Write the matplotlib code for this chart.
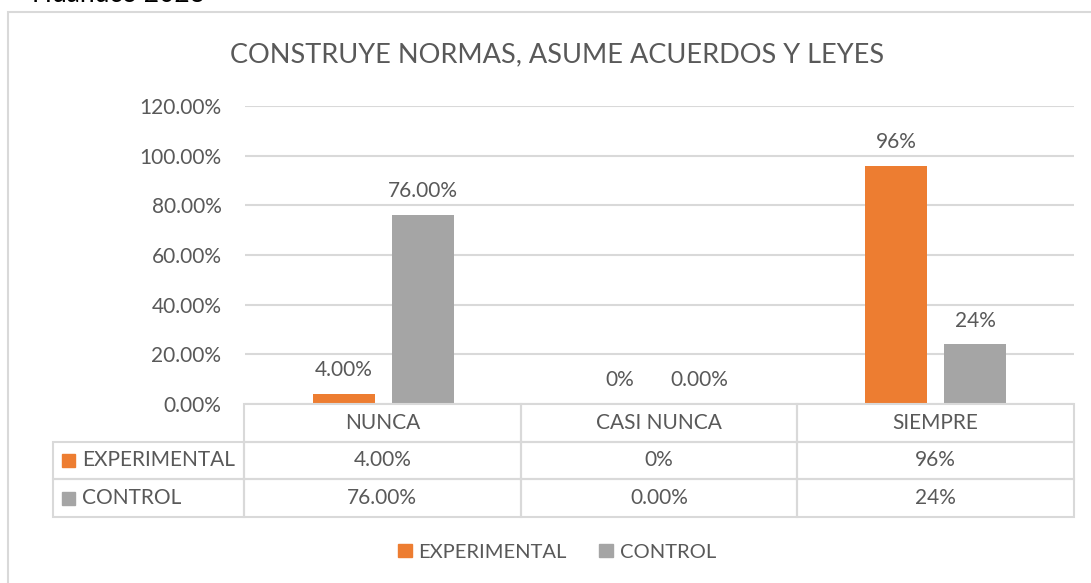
import matplotlib.pyplot as plt
from matplotlib.patches import Rectangle, Patch

plt.rcParams['font.family'] = ['Lato', 'DejaVu Sans']

categories = ["NUNCA", "CASI NUNCA", "SIEMPRE"]
series_names = ["EXPERIMENTAL", "CONTROL"]
experimental = [4.0, 0.0, 96.0]
control = [76.0, 0.0, 24.0]
experimental_labels = ["4.00%", "0%", "96%"]
control_labels = ["76.00%", "0.00%", "24%"]
yticks = [0, 20, 40, 60, 80, 100, 120]

ORANGE = "#ED7D31"
GRAY = "#A5A5A5"
TEXT = "#595959"
GRID = "#D9D9D9"
FS = 15

W, H = 1091, 583


def fx(x):
    return x / W


def fy(y):
    return 1 - y / H


fig = plt.figure(figsize=(W / 100, H / 100), dpi=100)

# outer chart border (runs off right and bottom edges)
fig.add_artist(Rectangle((fx(8), -0.2), 1.2, fy(12) + 0.2, transform=fig.transFigure,
                         fill=False, edgecolor=GRID, lw=1.5))
fig.text(fx(32), fy(2), "Huánuco 2023", fontsize=19, color="black", va="baseline")

fig.text(fx(557), fy(55), "CONSTRUYE NORMAS, ASUME ACUERDOS Y LEYES",
         fontsize=19.5, color=TEXT, ha="center", va="center")

# bar chart
ax = fig.add_axes([fx(245), fy(404), (1074 - 245) / W, 298 / H])
x = list(range(len(categories)))
off = 0.143
bw = 0.225
b1 = ax.bar([i - off for i in x], experimental, width=bw, color=ORANGE, zorder=3)
b2 = ax.bar([i + off for i in x], control, width=bw, color=GRAY, zorder=3)
for bars, labels in ((b1, experimental_labels), (b2, control_labels)):
    for bar, lab in zip(bars, labels):
        ax.annotate(lab, (bar.get_x() + bar.get_width() / 2, bar.get_height()),
                    xytext=(0, 10), textcoords="offset points",
                    ha="center", va="bottom", fontsize=FS, color=TEXT)

ax.set_xlim(-0.5, 2.5)
ax.set_ylim(0, 120)
ax.set_yticks(yticks)
ax.set_yticklabels([f"{v:.2f}%" for v in yticks])
ax.set_xticks([])
ax.tick_params(axis="y", length=0, pad=17, labelsize=FS, labelcolor=TEXT)
ax.grid(axis="y", color=GRID, lw=1.5, zorder=0)
for s in ax.spines.values():
    s.set_visible(False)

# data table under the axis, laid out in pixel units of its own axes
TW, TH = 1074 - 53, 517 - 404
tax = fig.add_axes([fx(53), fy(517), TW / W, TH / H])
tax.set_xlim(0, TW)
tax.set_ylim(TH, 0)
tax.axis("off")
lab_w = 191
col_w = (TW - lab_w) / len(categories)
rh = TH / 3


def cell(x0, y0, w, h, text="", loc="center", pad=0):
    tax.add_patch(Rectangle((x0, y0), w, h, fill=False, edgecolor=GRID, lw=1.5, clip_on=False))
    if text:
        tx = x0 + w / 2 if loc == "center" else x0 + pad
        tax.text(tx, y0 + h / 2, text, ha=loc, va="center", fontsize=FS, color=TEXT)


for j, cat in enumerate(categories):
    cell(lab_w + j * col_w, 0, col_w, rh, cat)
rows = [experimental_labels, control_labels]
for i, (name, vals, col) in enumerate(zip(series_names, rows, (ORANGE, GRAY))):
    y0 = rh * (i + 1)
    cell(0, y0, lab_w, rh, name, loc="left", pad=29)
    tax.add_patch(Rectangle((9, y0 + rh / 2 - 6.5), 13, 13, color=col, clip_on=False))
    for j, v in enumerate(vals):
        cell(lab_w + j * col_w, y0, col_w, rh, v)

handles = [Patch(color=ORANGE, label=series_names[0]), Patch(color=GRAY, label=series_names[1])]
leg = fig.legend(handles=handles, loc="center", bbox_to_anchor=(fx(557), fy(552)),
                 ncol=2, frameon=False, fontsize=14.5, handlelength=0.68, handleheight=0.68,
                 handletextpad=0.35, columnspacing=1.6)
for t in leg.get_texts():
    t.set_color(TEXT)

fig.savefig("out.png", dpi=100)
